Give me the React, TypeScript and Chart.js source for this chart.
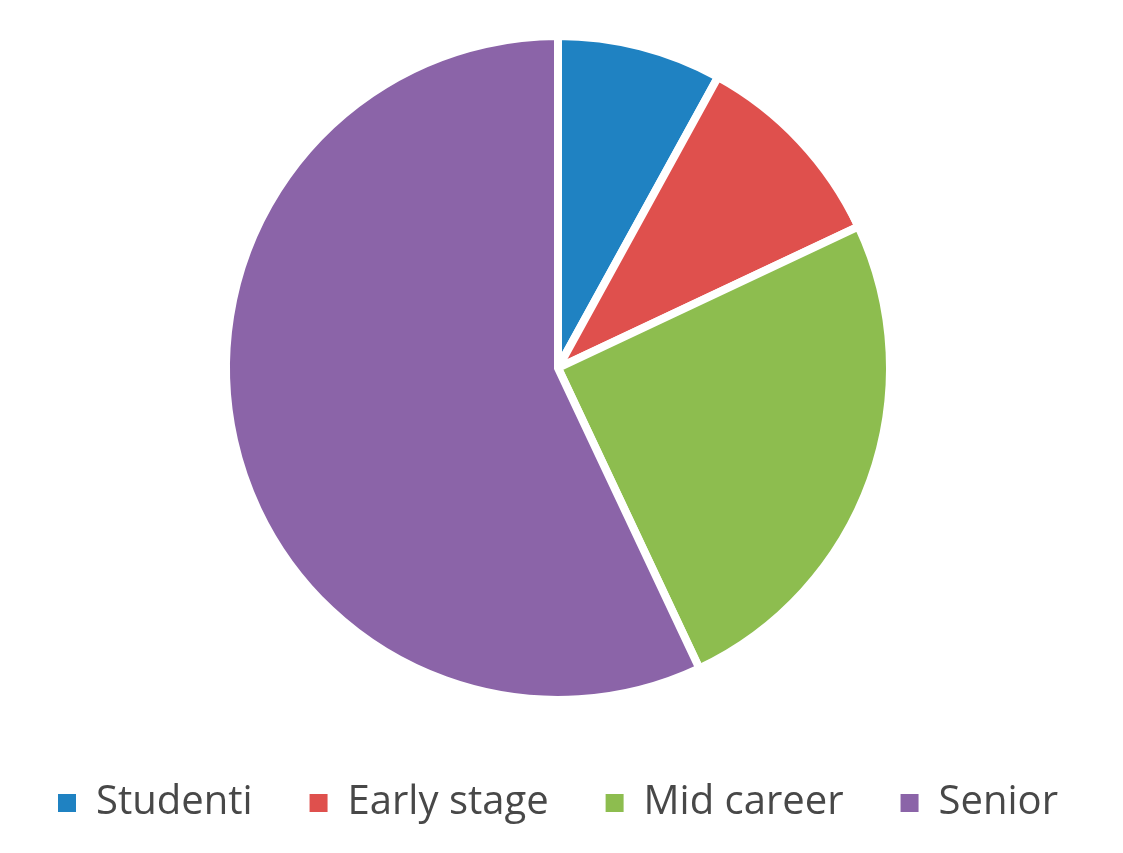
import React, { useEffect, useRef } from "react";
import { Chart, registerables } from "chart.js";

Chart.register(...registerables);

const categories = ["Studenti", "Early stage", "Mid career", "Senior"];
const values = [8, 10, 25, 57];
const colors = ["#1F82C2", "#DF504D", "#8DBD4F", "#8B64A8"];

export default function App() {
  const ref = useRef<HTMLCanvasElement | null>(null);
  useEffect(() => {
    if (!ref.current) return;
    const defaultGen = (Chart as any).overrides.pie.plugins.legend.labels.generateLabels;
    const chart = new Chart(ref.current, {
      type: "pie",
      data: {
        labels: categories,
        datasets: [
          {
            data: values,
            backgroundColor: colors,
            borderColor: "#ffffff",
            borderWidth: 8,
            borderJoinStyle: "miter",
          } as any,
        ],
      },
      options: {
        responsive: false,
        animation: false,
        radius: 332,
        layout: { padding: { top: 10, bottom: 20, left: 0, right: 7 } },
        plugins: {
          tooltip: { enabled: false },
          legend: {
            position: "bottom",
            labels: {
              boxWidth: 18,
              boxHeight: 18,
              padding: 57,
              color: "#484848",
              font: { family: "'Open Sans'", size: 40 },
              generateLabels: (c: any) =>
                defaultGen(c).map((item: any) => ({ ...item, lineWidth: 0, strokeStyle: item.fillStyle })),
            },
          },
        },
      } as any,
    });
    return () => chart.destroy();
  }, []);
  return (
    <div style={{ position: "fixed", left: 0, top: 0, width: 1123, height: 853, background: "#fff" }}>
      <canvas ref={ref} width={1123} height={853} style={{ display: "block" }} />
    </div>
  );
}
